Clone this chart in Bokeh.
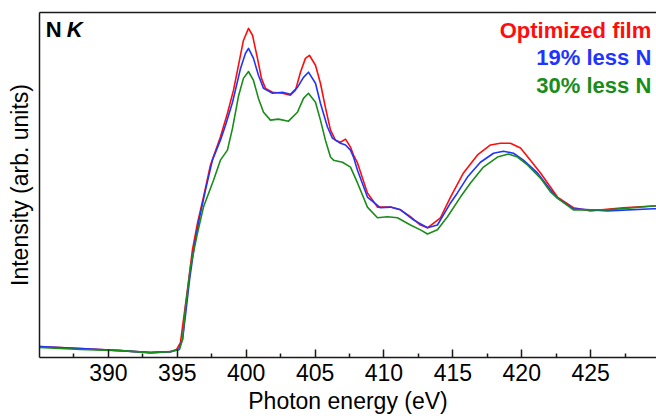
from bokeh.plotting import figure
from bokeh.models import LinearAxis, FixedTicker, Label
from bokeh.embed import file_html
from bokeh.resources import INLINE

# Data (photon energy in eV, intensity in arb. units)
series_names = ["Optimized film", "19% less N", "30% less N"]
series_colors = ["#ff0d0d", "#1f35ff", "#1a8c1a"]

energy_opt = [385.0, 387.98, 390.88, 393.06, 394.51, 394.94, 395.23, 395.45, 395.74, 396.10,
              396.47, 396.90, 397.41, 398.13, 398.64, 399.08, 399.44, 399.80, 400.17, 400.46,
              400.82, 401.11, 401.40, 401.91, 402.63, 403.21, 403.58, 403.94, 404.30, 404.59,
              405.03, 405.39, 405.75, 406.12, 406.48, 406.84, 407.21, 407.57, 407.79, 408.08,
              408.80, 409.53, 410.47, 411.20, 411.92, 412.65, 413.16, 414.10, 414.83, 415.77,
              416.79, 417.73, 418.45, 419.18, 419.91, 420.63, 421.36, 422.08, 422.59, 423.75,
              424.99, 427.38, 429.56, 429.78]
inten_opt = [0.032, 0.026, 0.020, 0.014, 0.017, 0.023, 0.043, 0.110, 0.197, 0.312,
             0.390, 0.465, 0.558, 0.639, 0.708, 0.775, 0.847, 0.919, 0.954, 0.934,
             0.867, 0.809, 0.780, 0.769, 0.766, 0.760, 0.775, 0.827, 0.867, 0.876,
             0.847, 0.795, 0.725, 0.659, 0.630, 0.624, 0.633, 0.610, 0.587, 0.564,
             0.477, 0.436, 0.436, 0.428, 0.408, 0.384, 0.376, 0.405, 0.465, 0.535,
             0.587, 0.616, 0.621, 0.621, 0.607, 0.572, 0.535, 0.494, 0.465, 0.434,
             0.425, 0.434, 0.439, 0.439]

energy_19 = [385.0, 387.98, 390.88, 393.06, 394.51, 395.09, 395.38, 395.60, 395.89, 396.25,
             396.61, 397.05, 397.55, 398.13, 398.50, 399.01, 399.59, 399.95, 400.17, 400.53,
             400.89, 401.26, 401.91, 402.63, 403.21, 403.72, 404.16, 404.52, 405.03, 405.39,
             405.90, 406.26, 406.84, 407.21, 407.57, 407.79, 408.08, 408.80, 409.75, 410.47,
             411.20, 412.14, 413.16, 413.88, 414.83, 415.33, 416.06, 417.00, 417.95, 418.67,
             419.40, 420.12, 421.14, 422.08, 422.59, 423.75, 426.22, 429.56, 429.78]
inten_19 = [0.032, 0.026, 0.020, 0.014, 0.017, 0.023, 0.052, 0.124, 0.225, 0.327,
            0.405, 0.486, 0.572, 0.630, 0.673, 0.740, 0.838, 0.882, 0.896, 0.867,
            0.818, 0.780, 0.766, 0.769, 0.763, 0.783, 0.812, 0.827, 0.795, 0.737,
            0.668, 0.636, 0.621, 0.616, 0.601, 0.581, 0.543, 0.465, 0.434, 0.436,
            0.428, 0.399, 0.376, 0.384, 0.448, 0.477, 0.523, 0.566, 0.592, 0.598,
            0.592, 0.572, 0.535, 0.486, 0.462, 0.431, 0.425, 0.431, 0.431]

energy_30 = [385.0, 387.98, 390.88, 393.06, 394.51, 395.16, 395.38, 395.60, 395.96, 396.47,
             396.90, 397.63, 398.13, 398.64, 399.01, 399.44, 399.80, 400.17, 400.53, 400.89,
             401.26, 401.76, 402.34, 403.07, 403.72, 404.16, 404.52, 405.03, 405.39, 405.75,
             406.12, 406.34, 406.99, 407.57, 408.08, 408.80, 409.53, 410.25, 410.98, 411.92,
             412.65, 413.16, 413.88, 414.61, 415.55, 416.28, 417.22, 418.24, 419.03, 419.69,
             420.41, 421.36, 422.08, 422.59, 423.75, 426.22, 429.56, 429.78]
inten_30 = [0.029, 0.023, 0.020, 0.014, 0.017, 0.023, 0.052, 0.147, 0.263, 0.361,
            0.436, 0.514, 0.572, 0.601, 0.665, 0.757, 0.809, 0.829, 0.803, 0.751,
            0.711, 0.688, 0.691, 0.685, 0.711, 0.751, 0.766, 0.740, 0.688, 0.630,
            0.581, 0.572, 0.566, 0.552, 0.506, 0.436, 0.405, 0.408, 0.405, 0.384,
            0.370, 0.358, 0.370, 0.408, 0.465, 0.506, 0.552, 0.581, 0.590, 0.581,
            0.558, 0.520, 0.480, 0.462, 0.428, 0.428, 0.439, 0.439]

x_ticks = [390, 395, 400, 405, 410, 415, 420, 425]
x_minor = [387.5, 392.5, 397.5, 402.5, 407.5, 412.5, 417.5, 422.5, 427.5]

FONT = "Liberation Sans"

p = figure(width=656, height=416, x_range=(385.0, 429.78), y_range=(0, 1),
           output_backend="svg", toolbar_location=None,
           min_border_left=39, min_border_right=0, min_border_top=12, min_border_bottom=58)
p.background_fill_color = "white"
p.border_fill_color = "white"
p.outline_line_color = None
p.xgrid.visible = False
p.ygrid.visible = False

axis_color = "#1a1a1a"
xa = p.xaxis[0]
xa.ticker = FixedTicker(ticks=x_ticks, minor_ticks=x_minor)
xa.major_tick_in = 8
xa.major_tick_out = 0
xa.minor_tick_in = 4
xa.minor_tick_out = 0
xa.axis_line_width = 1.5
xa.axis_line_color = axis_color
xa.major_tick_line_color = axis_color
xa.minor_tick_line_color = axis_color
xa.major_tick_line_width = 1.5
xa.minor_tick_line_width = 1.5
xa.major_label_text_font = FONT
xa.major_label_text_font_size = "23px"
xa.major_label_text_color = "black"
xa.major_label_standoff = 6
xa.axis_label = "Photon energy (eV)"
xa.axis_label_text_font = FONT
xa.axis_label_text_font_size = "23px"
xa.axis_label_text_font_style = "normal"
xa.axis_label_text_color = "black"
xa.axis_label_standoff = 4

ya = p.yaxis[0]
ya.ticker = FixedTicker(ticks=[])
ya.major_tick_out = 0
ya.major_tick_in = 0
ya.minor_tick_out = 0
ya.minor_tick_in = 0
ya.axis_line_width = 1.5
ya.axis_line_color = axis_color
ya.major_label_text_font_size = "0px"
ya.axis_label = "Intensity (arb. units)"
ya.axis_label_text_font = FONT
ya.axis_label_text_font_size = "23px"
ya.axis_label_text_font_style = "normal"
ya.axis_label_text_color = "black"
ya.axis_label_standoff = 7

top = LinearAxis(ticker=FixedTicker(ticks=[]), major_tick_out=0, major_tick_in=0,
                 minor_tick_out=0, minor_tick_in=0, major_label_text_font_size="0px",
                 axis_line_width=1.5, axis_line_color=axis_color)
p.add_layout(top, "above")

for xs, ys, c in zip([energy_opt, energy_19, energy_30],
                     [inten_opt, inten_19, inten_30], series_colors):
    p.line(xs, ys, line_color=c, line_width=1.6, line_join="round")

p.add_layout(Label(x=385.45, y=0.950, text="N", text_font=FONT, text_font_size="22px",
                   text_font_style="bold", text_color="black", text_baseline="alphabetic"))
p.add_layout(Label(x=385.45, y=0.950, text="K", text_font=FONT, text_font_size="22px",
                   text_font_style="bold italic", text_color="black", text_baseline="alphabetic",
                   x_offset=21))

label_ys = [0.948, 0.869, 0.788]
for name, c, yy in zip(series_names, series_colors, label_ys):
    p.add_layout(Label(x=429.4, y=yy, text=name, text_font=FONT, text_font_size="22px",
                       text_font_style="bold", text_color=c, text_align="right",
                       text_baseline="alphabetic"))

open("out.html", "w").write(file_html(p, INLINE))
